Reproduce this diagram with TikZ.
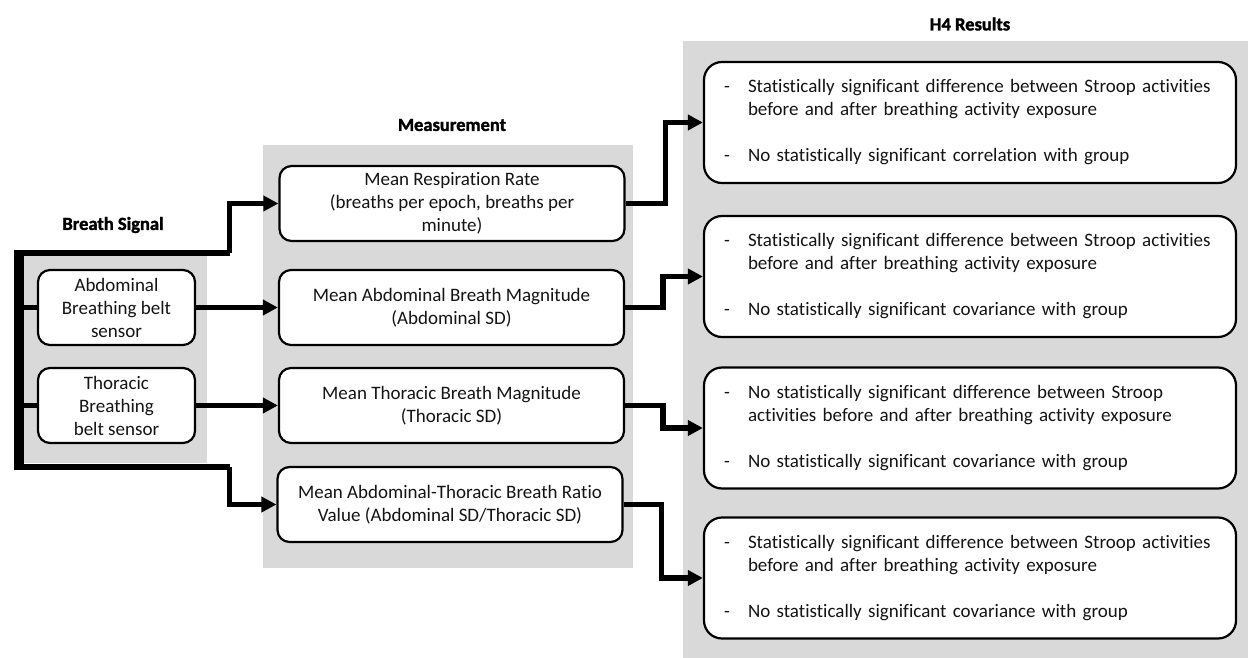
\documentclass[tikz,border=0pt]{standalone}
\usepackage{fontspec}
\setmainfont[Ligatures=NoCommon]{Carlito}
\newfontfamily\headfont[FakeBold=1.6]{Carlito Bold}
\usetikzlibrary{arrows.meta}
\definecolor{panelgray}{RGB}{217,217,217}
\definecolor{inkgray}{RGB}{20,20,20}
\newcommand\resitems[3]{%
  \begin{tabular}{@{}p{24pt}@{}l@{}}-&#1\\&#2\\&\\-&#3\end{tabular}}
\tikzset{
  x=1pt, y=-1pt,
  every node/.style={font=\fontsize{19}{23}\selectfont, text=inkgray},
  panel/.style={fill=panelgray},
  title/.style={font=\headfont\fontsize{18.5}{23}\selectfont, text=black},
  sensorbox/.style={draw, line width=2.2pt, fill=white, rounded corners=12pt,
    minimum width=157pt, minimum height=75pt, align=center, inner sep=2pt},
  measbox/.style={draw, line width=2.2pt, fill=white, rounded corners=12pt,
    minimum width=345pt, minimum height=75pt, align=center, inner sep=2pt},
  resbox/.style={draw, line width=2.2pt, fill=white, rounded corners=18pt,
    minimum height=121pt, text width=492pt, align=left, inner xsep=20pt},
  flow/.style={line width=5.5pt, -{Triangle[length=15pt,width=15pt]}},
  trunk/.style={line width=6pt},
  stub/.style={line width=4.5pt},
}
\begin{document}
\begin{tikzpicture}
\useasboundingbox (0,0) rectangle (1248,658);

% grey group panels
\fill[panel] (15,255) rectangle (207,463);
\fill[panel] (263,145) rectangle (633,568);
\fill[panel] (683,41) rectangle (1248,658);

% group titles
\node[title] (tSignal) at (113,225) {Breath Signal};
\node[title] (tMeas) at (452,125) {Measurement};
\node[title] (tRes) at (970,24) {H4 Results};

% sensors
\node[sensorbox] (abd) at (116.5,307.5) {Abdominal\\Breathing belt\\sensor};
\node[sensorbox] (tho) at (116.5,405.5) {Thoracic\\Breathing\\belt sensor};

% measurements
\node[measbox] (m1) at (452,203.5) {Mean Respiration Rate\\(breaths per epoch, breaths per\\minute)};
\node[measbox] (m2) at (451.5,307.5) {Mean Abdominal Breath Magnitude\\(Abdominal SD)};
\node[measbox] (m3) at (451.5,405.5) {Mean Thoracic Breath Magnitude\\(Thoracic SD)};
\node[measbox] (m4) at (450,504.5) {Mean Abdominal-Thoracic Breath Ratio\\Value (Abdominal SD/Thoracic SD)};

% results
\node[resbox] (r1) at (970,122.5) {\resitems
  {Statistically significant difference between Stroop activities}
  {before and after breathing activity exposure}
  {No statistically significant correlation with group}};
\node[resbox] (r2) at (970,276.5) {\resitems
  {Statistically significant difference between Stroop activities}
  {before and after breathing activity exposure}
  {No statistically significant covariance with group}};
\node[resbox] (r3) at (970,428) {\resitems
  {No statistically significant difference between Stroop}
  {activities before and after breathing activity exposure}
  {No statistically significant covariance with group}};
\node[resbox] (r4) at (970,578) {\resitems
  {Statistically significant difference between Stroop activities}
  {before and after breathing activity exposure}
  {No statistically significant covariance with group}};

% signal trunk on the left
\coordinate (busTop) at (18.5,253);
\coordinate (busBot) at (18.5,467);
\coordinate (jTop) at (229.5,253);
\coordinate (jBot) at (229.5,467);
\draw[line width=10pt] (18.5,250) -- (18.5,470);
\draw[trunk] (13.5,253) -- (jTop);
\draw[trunk] (13.5,467) -- (jBot);
\draw[flow] (jTop) |- (m1.west);
\draw[flow] (jBot) |- (m4.west);
\draw[stub] (abd.west -| busTop) -- (abd.west);
\draw[stub] (tho.west -| busTop) -- (tho.west);

% sensors to measurements
\draw[flow] (abd.east) -- (m2.west);
\draw[flow] (tho.east) -- (m3.west);

% measurements to results
\draw[flow] (m1.east) -- ++(40,0) |- (r1.west);
\draw[flow] (m2.east) -- ++(38,0) |- (r2.west);
\draw[flow] (m3.east) -- ++(38,0) |- (r3.west);
\draw[flow] (m4.east) -- ++(38,0) |- (r4.west);
\end{tikzpicture}
\end{document}
